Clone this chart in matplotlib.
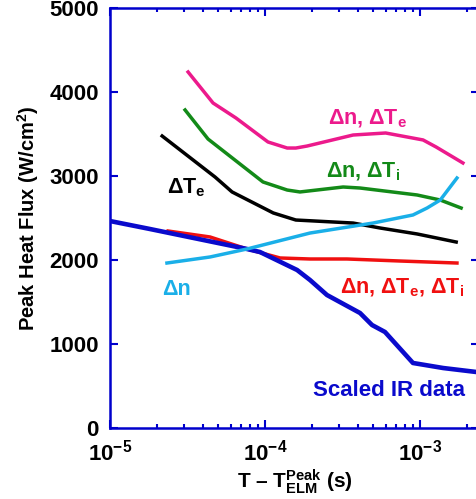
import matplotlib
matplotlib.use("Agg")
import matplotlib.pyplot as plt
import numpy as np

plt.rcParams['font.family'] = ['Liberation Sans', 'DejaVu Sans']
plt.rcParams['font.weight'] = 'bold'
plt.rcParams['axes.labelweight'] = 'bold'
plt.rcParams['mathtext.fontset'] = 'custom'
plt.rcParams['mathtext.rm'] = 'Liberation Sans:bold'
plt.rcParams['mathtext.it'] = 'Liberation Sans:bold'
plt.rcParams['mathtext.bf'] = 'Liberation Sans:bold'
plt.rcParams['mathtext.default'] = 'regular'

# Δn, ΔTe (magenta)
t_ne = [3.19e-5, 4.62e-5, 6.5e-5, 1.045e-4, 1.39e-4, 1.58e-4, 1.87e-4, 3.7e-4, 6.0e-4, 1.046e-3, 1.27e-3, 1.89e-3]
q_ne = [4238, 3869, 3690, 3405, 3333, 3333, 3357, 3488, 3512, 3429, 3345, 3155]

# Δn, ΔTi (green)
t_ni = [3.05e-5, 4.29e-5, 9.7e-5, 1.39e-4, 1.68e-4, 3.19e-4, 4.1e-4, 9.57e-4, 1.35e-3, 1.84e-3]
q_ni = [3786, 3440, 2929, 2833, 2810, 2869, 2857, 2774, 2714, 2619]

# ΔTe (black)
t_te = [2.17e-5, 4.76e-5, 6.13e-5, 1.13e-4, 1.58e-4, 3.7e-4, 5.52e-4, 9.57e-4, 1.71e-3]
q_te = [3476, 2988, 2810, 2560, 2476, 2440, 2381, 2310, 2214]

# Δn (cyan)
t_n = [2.33e-5, 4.42e-5, 7.65e-5, 1.95e-4, 4.97e-4, 9.0e-4, 1.11e-3, 1.35e-3, 1.73e-3]
q_n = [1964, 2036, 2131, 2321, 2440, 2536, 2619, 2714, 2976]

# Δn, ΔTe, ΔTi (red)
t_all = [2.37e-5, 4.42e-5, 7.65e-5, 1.25e-4, 1.95e-4, 3.38e-4, 7.43e-4, 1.73e-3]
q_all = [2345, 2274, 2131, 2024, 2012, 2012, 1988, 1964]

# scaled IR data (blue)
t_ir = [1e-5, 1.81e-5, 7.65e-5, 9.28e-5, 1.61e-4, 1.95e-4, 2.51e-4, 4.1e-4, 4.9e-4, 5.94e-4, 9.0e-4, 1.41e-3, 2.3e-3]
q_ir = [2464, 2369, 2131, 2095, 1881, 1762, 1583, 1369, 1226, 1143, 774, 714, 667]

W, H = 476, 499
fig = plt.figure(figsize=(W / 100, H / 100), dpi=100)
ax = fig.add_axes([110 / W, (H - 428) / H, 369 / W, 420 / H])

spine_c = '#0000CC'
ax.plot(t_ir, q_ir, color='#0A0ACC', lw=3.3, zorder=3)
ax.plot(t_all, q_all, color='#F01010', lw=2.5, zorder=2)
ax.plot(t_n, q_n, color='#1AAFE8', lw=2.5, zorder=4)
ax.plot(t_te, q_te, color='black', lw=2.5)
ax.plot(t_ni, q_ni, color='#138A18', lw=2.5)
ax.plot(t_ne, q_ne, color='#EC1A8C', lw=2.5)

ax.set_xscale('log')
ax.set_xlim(1e-5, 2.4e-3)
ax.set_ylim(0, 5000)
ax.set_yticks([0, 1000, 2000, 3000, 4000, 5000])

for s in ax.spines.values():
    s.set_color(spine_c)
    s.set_linewidth(1.8)
ax.tick_params(which='both', direction='in', top=True, right=True,
               color=spine_c, labelsize=16, width=1.5)
ax.tick_params(which='major', length=6, pad=8)
ax.tick_params(which='minor', length=3)
ax.tick_params(axis='y', which='minor', left=False, right=False)

ax.set_ylabel('Peak Heat Flux (W/cm$^2$)', fontsize=14.5, labelpad=6)
ax.set_xlabel(r'T – T$_{ELM}^{Peak}$ (s)', fontsize=15, labelpad=2)

fs = 15.5
ax.text(2.33e-5, 2857, 'ΔT$_e$', color='black', fontsize=fs, ha='left', va='center')
ax.text(4.62e-4, 3679, 'Δn, ΔT$_e$', color='#EC1A8C', fontsize=fs, ha='center', va='center')
ax.text(4.29e-4, 3048, 'Δn, ΔT$_i$', color='#138A18', fontsize=fs, ha='center', va='center')
ax.text(2.67e-5, 1643, 'Δn', color='#1AAFE8', fontsize=fs, ha='center', va='center')
ax.text(7.65e-4, 1667, 'Δn, ΔT$_e$, ΔT$_i$', color='#F01010', fontsize=fs, ha='center', va='center')
ax.text(6.31e-4, 452, 'Scaled IR data', color='#0A0ACC', fontsize=16, ha='center', va='center')

fig.savefig('out.png', dpi=100)
